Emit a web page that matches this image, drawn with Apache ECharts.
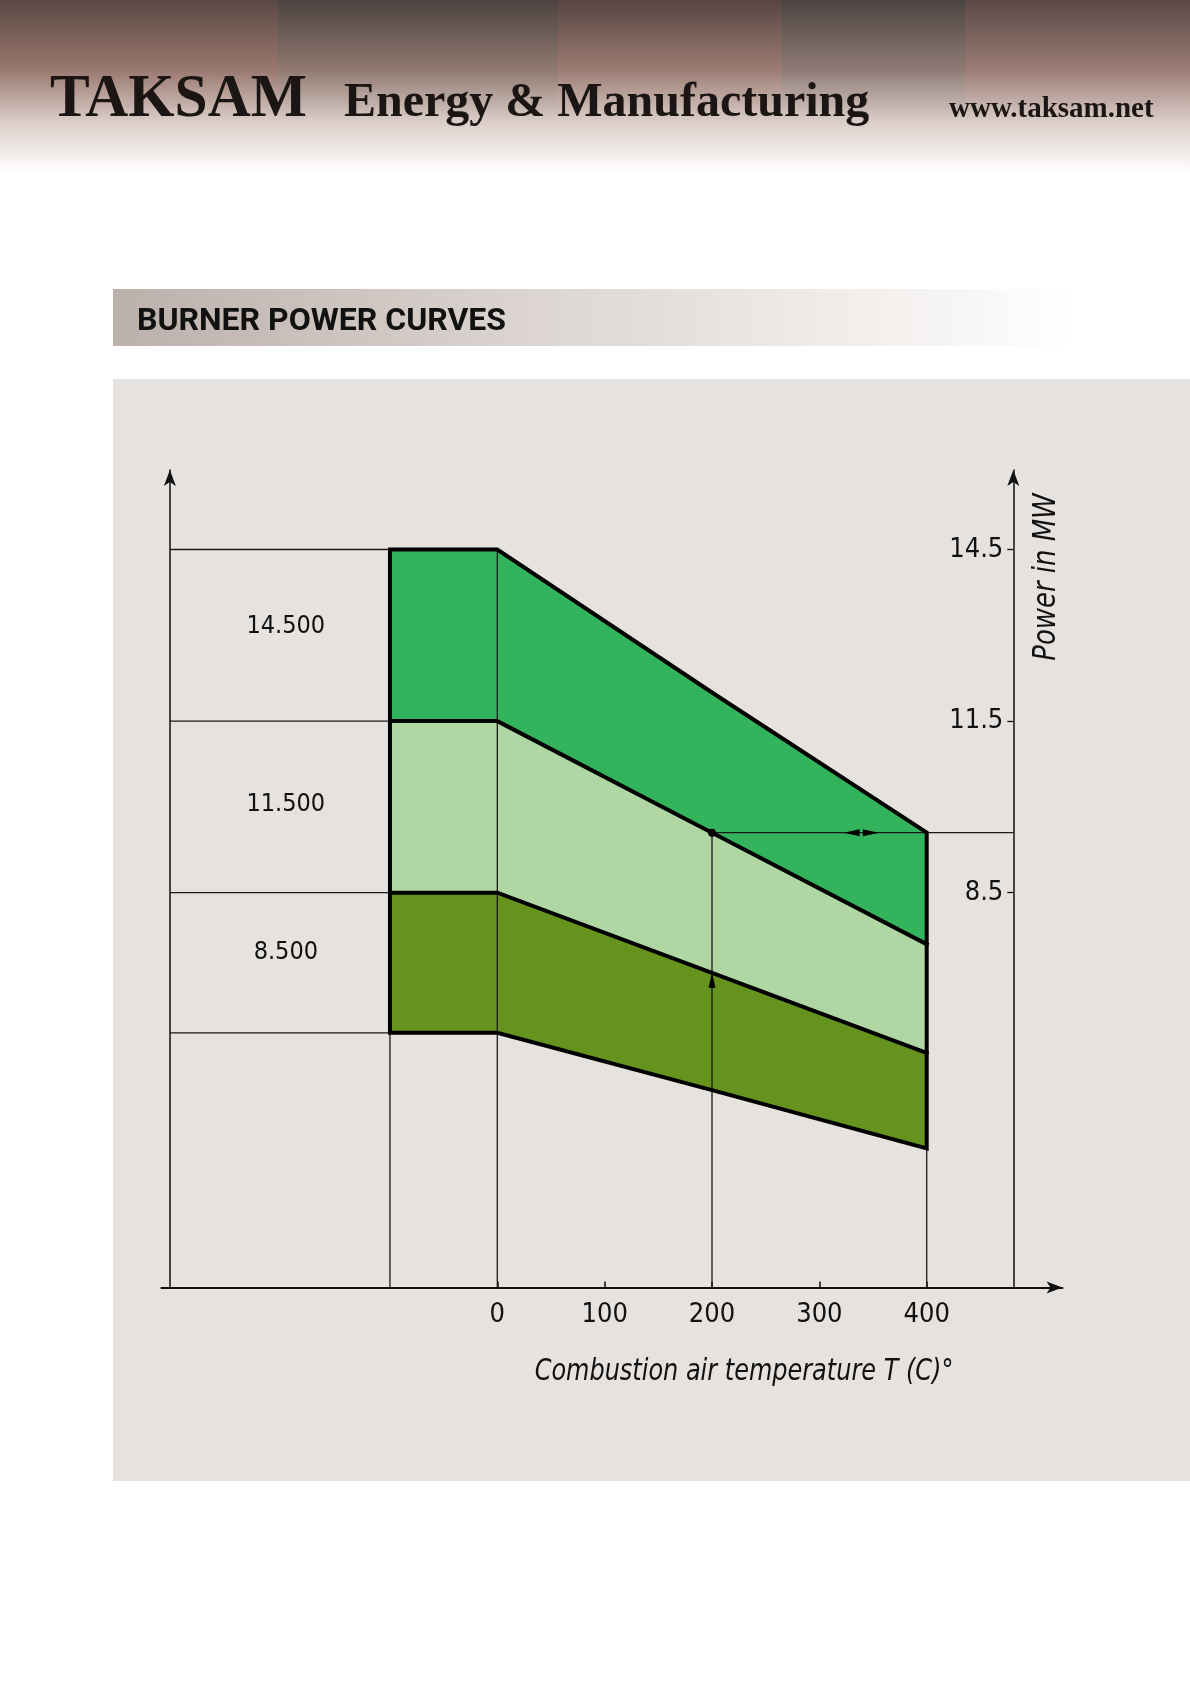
<!DOCTYPE html>
<html>
<head>
<meta charset="utf-8">
<title>Burner power curves</title>
<script src="https://cdn.jsdelivr.net/npm/echarts@6/dist/echarts.min.js"></script>
<style>
  html, body { margin: 0; padding: 0; background: #fff; }
  #chart { width: 1190px; height: 1684px; }
</style>
</head>
<body>
<div id="chart"></div>
<script>
// burner sizes written in the left cells
const burnerLabels = ['14.500', '11.500', '8.500'];
const burnerLabelY = [13.15, 10.05, 7.45];
// combustion air temperature break points (C), -100 is the flat block left of 0
const tempX = [-100, 0, 200, 400];
// power limits in MW
const topCurve  = [14.5, 14.5, 12.0, 9.55];
const midCurve  = [11.5, 11.5, 9.55, 7.6];
const lowCurve  = [8.5, 8.5, 7.1, 5.7];
const baseCurve = [6.05, 6.05, 5.05, 4.03];
const xTicks = [0, 100, 200, 300, 400];
const powerTicks = [8.5, 11.5, 14.5];
// worked example: 200 C on the 11.5 curve
const example = [200, 9.55];
const exampleCross = [200, 7.1];

const bandColors = ['#33b45c', '#b0d6a4', '#66921e'];
const NARROW = "'Liberation Sans Narrow','DejaVu Sans Condensed','Arial Narrow',sans-serif";

const X_MIN = -313, X_MAX = 526.5, Y_MIN = 1.6, Y_MAX = 15.89;
const LEFT_AXIS = -305, RIGHT_AXIS = 480.7;

let curves = [topCurve, midCurve, lowCurve, baseCurve];
let pts = c => tempX.map((x, i) => [x, c[i]]);

// thin construction lines
let thin = [];
curves.forEach(c => thin.push([[LEFT_AXIS, c[0]], [tempX[0], c[0]]]));
thin.push([[tempX[0], Y_MIN], [tempX[0], baseCurve[0]]]);
thin.push([[0, Y_MIN], [0, topCurve[1]]]);
thin.push([[example[0], Y_MIN], example]);
thin.push([[400, Y_MIN], [400, topCurve[3]]]);
thin.push([example, [RIGHT_AXIS, example[1]]]);

// thick outline: outer boundary plus the two inner curves
let outer = [[tempX[0], baseCurve[0]]].concat(pts(topCurve), pts(baseCurve).reverse());
let thick = [outer, pts(midCurve), pts(lowCurve)];

// header wood panels: [x0, x1, top colour, mid colour]
const headerPanels = [
  [0, 278, '#5b4944', '#98776d'],
  [278, 558, '#4d4340', '#8f7870'],
  [558, 782, '#574541', '#9b7b72'],
  [782, 965, '#4c4441', '#8e7a74'],
  [965, 1190, '#5a4845', '#9a7c74']
];

let chart = echarts.init(document.getElementById('chart'));
chart.setOption({
  backgroundColor: '#ffffff',
  animation: false,
  graphic: [].concat(
    headerPanels.map(p => ({
      type: 'rect', z: -10, silent: true,
      shape: { x: p[0], y: 0, width: p[1] - p[0], height: 172 },
      style: { fill: new echarts.graphic.LinearGradient(0, 0, 0, 1, [
        { offset: 0, color: p[2] }, { offset: 0.4, color: p[3] },
        { offset: 0.72, color: '#ddd0cb' }, { offset: 1, color: '#ffffff' }]) }
    })),
    [
      { type: 'text', z: 10, x: 50, y: 100, scaleX: 0.96,
        style: { text: 'TAKSAM', font: 'bold 62px "Liberation Serif", serif', fill: '#1b1513',
                 verticalAlign: 'middle', shadowColor: 'rgba(0,0,0,0.35)', shadowBlur: 3, shadowOffsetX: 2, shadowOffsetY: 2 } },
      { type: 'text', z: 10, x: 344, y: 103.6,
        style: { text: 'Energy & Manufacturing', font: 'bold 48px "Liberation Serif", serif', fill: '#1b1513',
                 verticalAlign: 'middle', shadowColor: 'rgba(0,0,0,0.35)', shadowBlur: 3, shadowOffsetX: 2, shadowOffsetY: 2 } },
      { type: 'text', z: 10, x: 949, y: 109.3,
        style: { text: 'www.taksam.net', font: 'bold 29px "Liberation Serif", serif', fill: '#1b1513',
                 verticalAlign: 'middle', shadowColor: 'rgba(0,0,0,0.3)', shadowBlur: 2, shadowOffsetX: 1, shadowOffsetY: 1 } },
      // section bar
      { type: 'rect', z: -10, silent: true,
        shape: { x: 113, y: 289, width: 961, height: 57 },
        style: { fill: new echarts.graphic.LinearGradient(0, 0, 1, 0, [
          { offset: 0, color: '#bcb0ab' }, { offset: 0.45, color: '#ddd6d2' },
          { offset: 0.8, color: '#f3f0ee' }, { offset: 1, color: '#ffffff' }]) } },
      { type: 'text', z: 10, x: 137, y: 322,
        style: { text: 'BURNER POWER CURVES', font: 'bold 32px Roboto, "Noto Sans", sans-serif', fill: '#111',
                 verticalAlign: 'middle' } },
      // grey panel
      { type: 'rect', z: -10, silent: true,
        shape: { x: 113, y: 379, width: 1077, height: 1102 },
        style: { fill: '#e6e2df' } },
      { type: 'text', z: 10, x: 744, y: 1372, scaleX: 0.86,
        style: { text: 'Combustion air temperature T (C)°', font: 'italic 31px ' + NARROW, fill: '#111',
                 align: 'center', verticalAlign: 'middle' } },
      { type: 'text', z: 10, x: 1047, y: 577, rotation: Math.PI / 2, scaleX: 0.9,
        style: { text: 'Power in MW', font: 'italic 32px ' + NARROW, fill: '#111',
                 align: 'center', verticalAlign: 'middle' } }
    ]
  ),
  grid: { left: 161.3, top: 470, width: 901.2, height: 817.4, containLabel: false },
  xAxis: {
    type: 'value', min: X_MIN, max: X_MAX,
    axisLine: { onZero: false, symbol: ['none', 'arrow'], symbolSize: [9, 16],
                lineStyle: { color: '#111', width: 2 } },
    axisTick: { show: true, inside: true, length: 6, customValues: xTicks,
                lineStyle: { color: '#111', width: 1.5 } },
    axisLabel: { customValues: xTicks, margin: 14, fontSize: 27, fontFamily: NARROW, color: '#111' },
    splitLine: { show: false }
  },
  yAxis: [
    {
      type: 'value', min: Y_MIN, max: Y_MAX, position: 'left', offset: -8.6,
      axisLine: { show: true, onZero: false, symbol: ['none', 'arrow'], symbolSize: [9, 16],
                  lineStyle: { color: '#111', width: 1.5 } },
      axisTick: { show: false }, axisLabel: { show: false }, splitLine: { show: false }
    },
    {
      type: 'value', min: Y_MIN, max: Y_MAX, position: 'right', offset: -49.2,
      axisLine: { show: true, onZero: false, symbol: ['none', 'arrow'], symbolSize: [9, 16],
                  lineStyle: { color: '#111', width: 1.5 } },
      axisTick: { show: true, inside: true, length: 6, customValues: powerTicks,
                  lineStyle: { color: '#111', width: 1.3 } },
      axisLabel: { inside: true, customValues: powerTicks, margin: 10, fontSize: 27,
                   fontFamily: NARROW, color: '#111' },
      splitLine: { show: false }
    }
  ],
  series: [
    {
      type: 'custom', z: 1, silent: true,
      data: bandColors.map((c, i) => [i]),
      renderItem: function (params, api) {
        let i = api.value(0);
        let poly = pts(curves[i]).concat(pts(curves[i + 1]).reverse()).map(p => api.coord(p));
        return { type: 'polygon', shape: { points: poly }, style: { fill: bandColors[i] } };
      }
    },
    {
      type: 'lines', coordinateSystem: 'cartesian2d', polyline: true, z: 2, silent: true,
      data: thin.map(c => ({ coords: c })),
      lineStyle: { color: '#1a1a1a', width: 1.3, opacity: 1 }
    },
    {
      type: 'lines', coordinateSystem: 'cartesian2d', polyline: true, z: 3, silent: true,
      data: thick.map(c => ({ coords: c })),
      lineStyle: { color: '#000', width: 4, opacity: 1, join: 'miter', cap: 'square' }
    },
    {
      type: 'scatter', z: 4, silent: true,
      itemStyle: { color: '#000', opacity: 1 },
      data: [
        { value: example, symbol: 'circle', symbolSize: 8 },
        { value: exampleCross, symbol: 'triangle', symbolSize: [7, 15], symbolOffset: [0, '50%'] },
        { value: [330, example[1]], symbol: 'triangle', symbolSize: [7, 16], symbolRotate: 90 },
        { value: [348, example[1]], symbol: 'triangle', symbolSize: [7, 16], symbolRotate: -90 }
      ]
    },
    {
      type: 'scatter', z: 4, silent: true, symbolSize: 0,
      itemStyle: { opacity: 1 },
      data: burnerLabels.map((t, i) => ({ value: [-197, burnerLabelY[i]], name: t })),
      label: { show: true, position: 'inside', formatter: p => p.name,
               fontSize: 25, fontFamily: NARROW, color: '#111', opacity: 1 }
    }
  ]
});
</script>
</body>
</html>
